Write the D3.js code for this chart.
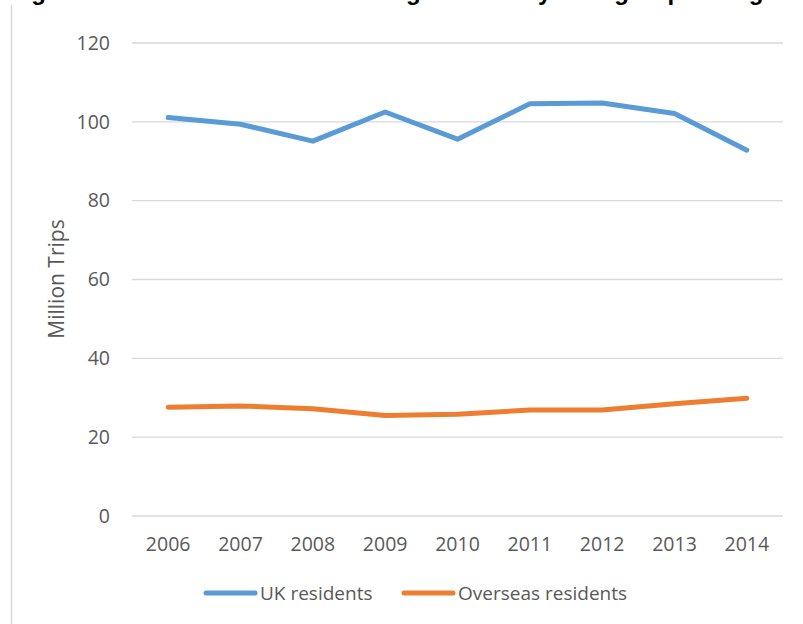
<!DOCTYPE html>
<html>
<head>
<meta charset="utf-8">
<script src="https://cdn.jsdelivr.net/npm/d3@7/dist/d3.min.js"></script>
<style>
  html, body { margin: 0; padding: 0; background: #ffffff; }
  svg { display: block; }
</style>
</head>
<body>
<svg id="chart" width="803" height="624"></svg>
<script>
const titleText = "Figure 1: Number of all visits to England each year – group of origin";
const years = ["2006", "2007", "2008", "2009", "2010", "2011", "2012", "2013", "2014"];
const ukResidents = [101.1, 99.4, 95.1, 102.5, 95.6, 104.6, 104.8, 102.1, 92.8];
const overseasResidents = [27.6, 27.9, 27.2, 25.5, 25.8, 26.9, 26.9, 28.5, 29.9];
const yTicks = [0, 20, 40, 60, 80, 100, 120];
const seriesNames = ["UK residents", "Overseas residents"];
const seriesColors = ["#5b9bd5", "#ed7d31"];
const yTitle = "Million Trips";

const svg = d3.select("#chart");
const font = "'Open Sans', 'Liberation Sans', sans-serif";
const textColor = "#595959";
const fs = 19.5;

// clipped title at the very top (only descenders visible, as in the reference)
svg.append("text")
  .attr("x", 10).attr("y", 0)
  .attr("font-family", "'Liberation Sans', Arial, sans-serif")
  .attr("font-weight", "bold")
  .attr("font-size", 24)
  .attr("fill", "#000")
  .text(titleText);

// left border line
svg.append("line")
  .attr("x1", 11.5).attr("x2", 11.5)
  .attr("y1", 5).attr("y2", 624)
  .attr("stroke", "#d9d9d9").attr("stroke-width", 1.5);

const pLeft = 132, pRight = 783, pTop = 43, pBottom = 516;

const x = d3.scaleBand().domain(years).range([pLeft, pRight]);
const y = d3.scaleLinear().domain([0, 120]).range([pBottom, pTop]);

// gridlines
svg.append("g")
  .selectAll("line").data(yTicks).join("line")
  .attr("x1", pLeft).attr("x2", pRight)
  .attr("y1", d => y(d)).attr("y2", d => y(d))
  .attr("stroke", "#d9d9d9").attr("stroke-width", 1.3);

// y axis labels
const yAxis = d3.axisLeft(y).tickValues(yTicks).tickSize(0).tickPadding(0);
const gy = svg.append("g").attr("transform", `translate(110,0)`).call(yAxis);
gy.select(".domain").remove();
gy.selectAll("text")
  .attr("font-family", font).attr("font-size", fs)
  .attr("fill", textColor);

// x axis labels
const xAxis = d3.axisBottom(x).tickSize(0).tickPadding(0);
const gx = svg.append("g").attr("transform", `translate(0,537)`).call(xAxis);
gx.select(".domain").remove();
gx.selectAll("text")
  .attr("font-family", font).attr("font-size", fs)
  .attr("fill", textColor);

// y title
svg.append("text")
  .attr("transform", `translate(64,279) rotate(-90)`)
  .attr("text-anchor", "middle")
  .attr("font-family", font).attr("font-size", 21)
  .attr("fill", textColor)
  .text(yTitle);

// lines
const line = d3.line()
  .x((d, i) => x(years[i]) + x.bandwidth() / 2)
  .y(d => y(d));

[ukResidents, overseasResidents].forEach((vals, k) => {
  svg.append("path")
    .datum(vals)
    .attr("d", line)
    .attr("fill", "none")
    .attr("stroke", seriesColors[k])
    .attr("stroke-width", 5)
    .attr("stroke-linecap", "round")
    .attr("stroke-linejoin", "round");
});

// legend
const legendY = 593;
const legendItems = [{x0: 206, name: seriesNames[0], c: seriesColors[0]},
                     {x0: 404, name: seriesNames[1], c: seriesColors[1]}];
legendItems.forEach(it => {
  svg.append("line")
    .attr("x1", it.x0).attr("x2", it.x0 + 49)
    .attr("y1", legendY).attr("y2", legendY)
    .attr("stroke", it.c).attr("stroke-width", 5)
    .attr("stroke-linecap", "round");
  svg.append("text")
    .attr("x", it.x0 + 54).attr("y", legendY)
    .attr("dy", "0.35em")
    .attr("font-family", font).attr("font-size", 19)
    .attr("fill", textColor)
    .text(it.name);
});
</script>
</body>
</html>
